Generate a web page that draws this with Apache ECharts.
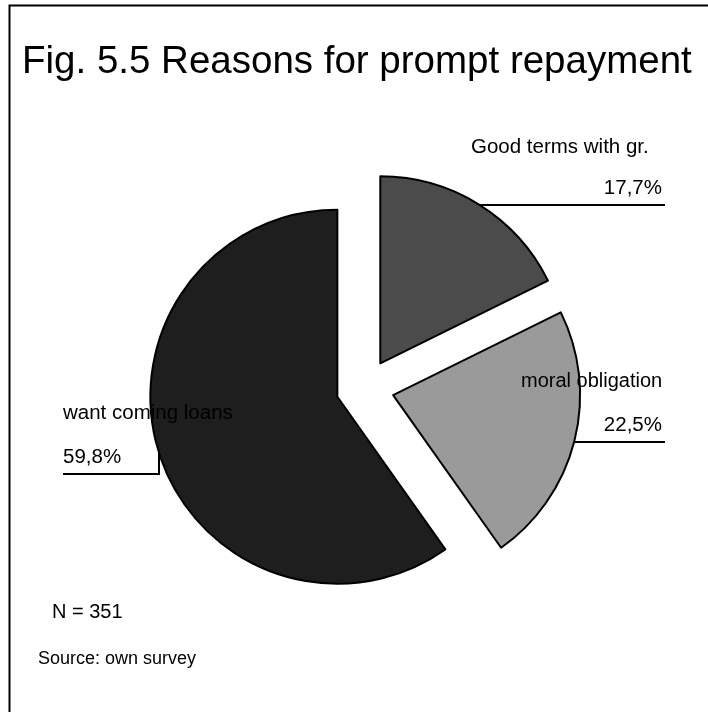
<!DOCTYPE html>
<html>
<head>
<meta charset="utf-8">
<title>Fig. 5.5 Reasons for prompt repayment</title>
<script src="https://cdn.jsdelivr.net/npm/echarts@6/dist/echarts.min.js"></script>
<style>
  html, body { margin: 0; padding: 0; background: #ffffff; }
  #chart { width: 708px; height: 712px; }
</style>
</head>
<body>
<div id="chart"></div>
<script>
// Survey answers: reasons for prompt repayment (shares in percent, N = 351)
const categories = ['Good terms with gr.', 'moral obligation', 'want coming loans'];
const shares = [17.7, 22.5, 59.8];
const sliceColors = ['#4b4b4b', '#9a9a9a', '#1e1e1e'];
const sampleNote = 'N = 351';
const sourceNote = 'Source: own survey';
const titleText = 'Fig. 5.5 Reasons for prompt repayment';

// Pie layout
const CX = 365, CY = 388, R = 187, EXPLODE = 29;
const FONT = '"Liberation Sans", Arial, sans-serif';
const LABEL_FONT = '20.5px ' + FONT;

const fmtPct = v => v.toFixed(1).replace('.', ',') + '%';

// Geometry of each exploded slice (clockwise from 12 o'clock), derived from the shares
const total = shares.reduce((a, b) => a + b, 0);
const slices = [];
let acc = 0;
shares.forEach(v => {
  const a0 = acc / total * 2 * Math.PI;
  acc += v;
  const a1 = acc / total * 2 * Math.PI;
  const mid = (a0 + a1) / 2;
  // screen direction for a clockwise angle measured from the top
  const cx = CX + EXPLODE * Math.sin(mid);
  const cy = CY - EXPLODE * Math.cos(mid);
  slices.push({ a0, a1, cx, cy });
});

// point on a slice's rim at a given screen y (right or left half)
function rimAtY(s, y, side) {
  const dy = y - s.cy;
  const dx = Math.sqrt(Math.max(0, R * R - dy * dy));
  return [s.cx + side * dx, y];
}
// point on a slice's rim at a given screen x (lower half)
function rimAtX(s, x) {
  const dx = x - s.cx;
  const dy = Math.sqrt(Math.max(0, R * R - dx * dx));
  return [x, s.cy + dy];
}

const lineStyle = { stroke: '#000', lineWidth: 2, fill: null };

const graphics = [
  // frame
  { type: 'rect', x: 0, y: 0, shape: { x: 9.5, y: 5.5, width: 800, height: 800 },
    style: { stroke: '#000', lineWidth: 2, fill: null }, z: 10 },
  // title
  { type: 'text', x: 22, y: 62, z: 10,
    style: { text: titleText, font: '38.5px ' + FONT, fill: '#000', textVerticalAlign: 'middle' } },

  // Good terms with gr.
  { type: 'text', x: 471, y: 147, z: 10,
    style: { text: categories[0], font: LABEL_FONT, fill: '#000', textVerticalAlign: 'middle' } },
  { type: 'text', x: 662, y: 188, z: 10,
    style: { text: fmtPct(shares[0]), font: LABEL_FONT, fill: '#000', textAlign: 'right', textVerticalAlign: 'middle' } },
  { type: 'polyline', z: 10, shape: { points: [rimAtY(slices[0], 205, 1), [665, 205]] }, style: lineStyle },

  // moral obligation
  { type: 'text', x: 521, y: 381, z: 10,
    style: { text: categories[1], font: '20px ' + FONT, fill: '#000', textVerticalAlign: 'middle' } },
  { type: 'text', x: 662, y: 425, z: 10,
    style: { text: fmtPct(shares[1]), font: LABEL_FONT, fill: '#000', textAlign: 'right', textVerticalAlign: 'middle' } },
  { type: 'polyline', z: 10, shape: { points: [rimAtY(slices[1], 442, 1), [665, 442]] }, style: lineStyle },

  // want coming loans
  { type: 'text', x: 63, y: 413, z: 10,
    style: { text: categories[2], font: LABEL_FONT, fill: '#000', textVerticalAlign: 'middle' } },
  { type: 'text', x: 63, y: 457, z: 10,
    style: { text: fmtPct(shares[2]), font: LABEL_FONT, fill: '#000', textVerticalAlign: 'middle' } },
  { type: 'polyline', z: 10, shape: { points: [[63, 474], [159, 474], rimAtX(slices[2], 159)] }, style: lineStyle },

  // notes
  { type: 'text', x: 52, y: 612, z: 10,
    style: { text: sampleNote, font: '20px ' + FONT, fill: '#000', textVerticalAlign: 'middle' } },
  { type: 'text', x: 38, y: 659, z: 10,
    style: { text: sourceNote, font: '18px ' + FONT, fill: '#000', textVerticalAlign: 'middle' } }
];

const chart = echarts.init(document.getElementById('chart'), null, { renderer: 'canvas' });
chart.setOption({
  backgroundColor: '#ffffff',
  animation: false,
  series: [{
    type: 'pie',
    center: [CX, CY],
    radius: R,
    startAngle: 90,
    clockwise: true,
    selectedMode: 'multiple',
    selectedOffset: EXPLODE,
    label: { show: false },
    labelLine: { show: false },
    emphasis: { disabled: true },
    itemStyle: { borderColor: '#000', borderWidth: 2 },
    data: categories.map((name, i) => ({
      name,
      value: shares[i],
      selected: true,
      itemStyle: { color: sliceColors[i] }
    }))
  }],
  graphic: graphics
});
</script>
</body>
</html>
